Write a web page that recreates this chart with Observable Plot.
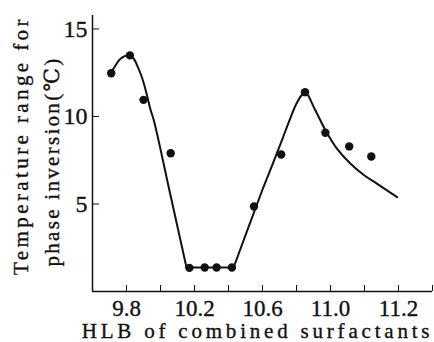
<!DOCTYPE html>
<html><head><meta charset="utf-8">
<script src="https://cdn.jsdelivr.net/npm/d3@7"></script>
<script src="https://cdn.jsdelivr.net/npm/@observablehq/plot@0.6"></script>
<style>
body{margin:0;background:#fff}
#chart{width:434px;height:342px}
#chart svg, #chart svg text{font-family:"Liberation Serif","Times New Roman","DejaVu Serif",serif !important;}
</style>
</head><body><div id="chart"></div>
<script>
// Measured points
const hlb = [9.71, 9.82, 9.90, 10.06, 10.17, 10.26, 10.33, 10.42, 10.55, 10.71, 10.85, 10.97, 11.11, 11.24];
const tempRange = [12.47, 13.49, 10.95, 7.90, 1.35, 1.37, 1.37, 1.37, 4.86, 7.83, 11.39, 9.07, 8.29, 7.71];

// Fitted curve as drawn, in three pieces (falling hump, flat floor, rising hump)
const curveHlb = [9.710, 9.735, 9.765, 9.814, 9.843, 9.865, 9.892, 9.918, 9.941, 9.961, 10.059, 10.153,
  10.153, 10.430,
  10.430, 10.598, 10.659, 10.718, 10.765, 10.800, 10.829, 10.853,
  10.902, 10.971, 11.039, 11.118, 11.196, 11.275, 11.392];
const curveTemp = [12.50, 12.91, 13.30, 13.49, 13.30, 12.86, 12.20, 11.31, 10.40, 9.77, 5.49, 1.37,
  1.37, 1.37,
  1.37, 5.77, 7.26, 8.74, 9.94, 10.74, 11.20, 11.39,
  10.53, 9.20, 8.15, 7.30, 6.66, 6.15, 5.39];
const curvePiece = [1,1,1,1,1,1,1,1,1,1,1,1,
  2,2,
  3,3,3,3,3,3,3,3,3,3,3,3,3,3,3];

const xDomain = [9.6, 11.6];
const yDomain = [0, 15.77];
const xTicks = [9.8, 10.0, 10.2, 10.4, 10.6, 10.8, 11.0, 11.2, 11.4, 11.6];
const xLabelPos = [9.8, 10.2, 10.6, 11.0, 11.4];
const xLabelText = ["9.8", "10.2", "10.6", "11.0", "11.2"];
const yTicks = [5, 10, 15];
const xTitle = "HLB of combined surfactants";
const yTitle1 = "Temperature range for";
const yTitle2 = "phase inversion(℃)";

const pts = hlb.map((x, i) => ({x, y: tempRange[i]}));
const crv = curveHlb.map((x, i) => ({x, y: curveTemp[i], piece: curvePiece[i]}));

const serif = "'Liberation Serif', 'Times New Roman', 'DejaVu Serif', serif";
const ink = "#111";

const chart = Plot.plot({
  width: 434,
  height: 342,
  marginLeft: 92,
  marginRight: 2,
  marginTop: 15,
  marginBottom: 51,
  style: {fontFamily: serif, background: "#fff", color: ink},
  x: {domain: xDomain},
  y: {domain: yDomain},
  marks: [
    Plot.ruleX([xDomain[0]], {stroke: ink, strokeWidth: 1.5}),
    Plot.ruleY([yDomain[0]], {stroke: ink, strokeWidth: 1.5}),
    Plot.axisX({ticks: xTicks, tickSize: -6, tickFormat: () => "", stroke: ink, label: null}),
    Plot.axisX({ticks: xLabelPos, tickSize: 0, tickPadding: 8, fontSize: 23, fontFamily: serif,
      tickFormat: d => xLabelText[xLabelPos.indexOf(d)], fill: ink, label: null}),
    Plot.axisY({ticks: yTicks, tickSize: -7, tickPadding: 12, fontSize: 24, fontFamily: serif,
      tickFormat: d => String(d), label: null, stroke: ink, fill: ink}),
    Plot.line(crv, {filter: d => d.piece === 1, x: "x", y: "y", stroke: ink, strokeWidth: 2, curve: "catmull-rom"}),
    Plot.line(crv, {filter: d => d.piece === 2, x: "x", y: "y", stroke: ink, strokeWidth: 2, curve: "linear"}),
    Plot.line(crv, {filter: d => d.piece === 3, x: "x", y: "y", stroke: ink, strokeWidth: 2, curve: "catmull-rom"}),
    Plot.dot(pts, {x: "x", y: "y", r: 4.2, fill: ink}),
    Plot.text([xTitle], {frameAnchor: "bottom", dy: 46, dx: -5, fontSize: 21, fontFamily: serif, fill: ink, textAnchor: "middle", lineAnchor: "bottom"}),
    Plot.text([yTitle1], {frameAnchor: "left", dx: -71, dy: -8, rotate: -90, fontSize: 21, fontFamily: serif, fill: ink, textAnchor: "middle", lineAnchor: "middle"}),
    Plot.text([yTitle2], {frameAnchor: "left", dx: -40, dy: 8, rotate: -90, fontSize: 21, fontFamily: serif, fill: ink, textAnchor: "middle", lineAnchor: "middle"})
  ]
});
const svg = d3.select(chart);
svg.selectAll("text").filter(function() { return this.textContent === ""; }).remove();
const spacing = new Map([[xTitle, "3.8px"], [yTitle1, "3.4px"], [yTitle2, "2.3px"]]);
svg.selectAll("text").filter(function() { return spacing.has(this.textContent); })
  .style("letter-spacing", function() { return spacing.get(this.textContent); });
svg.selectAll("text").style("stroke", ink).style("stroke-width", "0.35px");
document.getElementById("chart").append(chart);
</script>
</body></html>
